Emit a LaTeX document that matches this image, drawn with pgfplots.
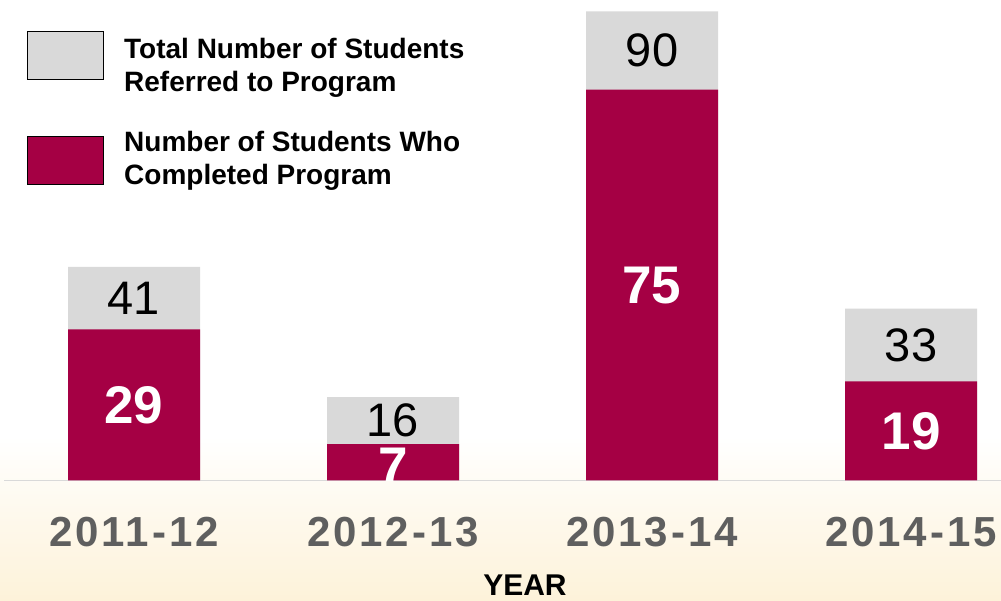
\documentclass[border=0pt]{standalone}
\usepackage{pgfplots}
\pgfplotsset{compat=1.18}
\usepackage{pgfplotstable}
\usepackage{fontspec}
\setmainfont{Liberation Sans}
\newfontfamily\tickfont[LetterSpace=7]{Liberation Sans}
\definecolor{crim}{HTML}{A50044}
\definecolor{lgray}{HTML}{D9D9D9}
\definecolor{tgray}{HTML}{5F5F5F}
\definecolor{cream}{HTML}{FDF2D9}

\pgfplotstableread{
x total done
0 41 29
1 16 7
2 90 75
3 33 19
}\bars
\pgfplotstableread{
x y lab
0 35 41
1 11.5 16
2 82.5 90
3 26 33
}\toplabels
\pgfplotstableread{
x y lab
0 14.5 29
2 37.5 75
3 9.5 19
}\inlabels

\pgfplotsset{mylegend/.style={legend image code/.code={\draw[##1, draw=black, line width=1pt] (0pt,{-24pt+#1}) rectangle (76pt,{24pt+#1});}}}

\begin{document}
\begin{tikzpicture}
\path[use as bounding box, fill=white] (0,0) rectangle (1001pt,601pt);
\shade[top color=white, bottom color=cream] (0,0) rectangle (1001pt,165pt);
\begin{axis}[
  at={(4.5pt,120.5pt)}, anchor=south west,
  scale only axis, width=996.5pt, height=480.5pt,
  xmin=-0.5, xmax=3.3475, ymin=0, ymax=92.2,
  axis x line=bottom, axis y line=none,
  x axis line style={draw=lgray, line width=1.5pt, -},
  xtick={0,1,2,3}, xticklabels={2011-12,2012-13,2013-14,2014-15},
  major tick length=0pt,
  xticklabel style={font=\tickfont\bfseries\fontsize{42}{42}\selectfont, text=tgray, anchor=base, yshift=-66.5pt, inner sep=0pt},
  xlabel={YEAR},
  xlabel style={at={(axis description cs:0.5223,0)}, anchor=base, yshift=-115.5pt, font=\bfseries\fontsize{30}{30}\selectfont, inner sep=0pt},
  legend style={at={(axis description cs:0.02258,0.935)}, anchor=north west, draw=none, fill=none,
    font=\bfseries\fontsize{28}{33}\selectfont, row sep=38pt, inner sep=0pt,
    nodes={inner sep=0pt, align=left},
    /tikz/every odd column/.append style={column sep=20pt}},
  legend cell align=left,
]
\addplot[ybar, bar width=132pt, bar shift=0pt, fill=lgray, draw=none, mylegend=10pt] table[x=x, y=total] {\bars};
\addlegendentry{Total Number of Students\\Referred to Program}
\addplot[ybar, bar width=132pt, bar shift=0pt, fill=crim, draw=none, mylegend=-2pt] table[x=x, y=done] {\bars};
\addlegendentry{Number of Students Who\\Completed Program}
\addplot[forget plot, draw=none, mark=none, nodes near coords, point meta=explicit symbolic,
  nodes near coords align={center},
  every node near coord/.append style={font=\fontsize{47}{47}\selectfont, text=black, inner sep=0pt}]
  table[x=x, y=y, meta=lab] {\toplabels};
\addplot[forget plot, draw=none, mark=none, nodes near coords, point meta=explicit symbolic,
  nodes near coords align={center},
  every node near coord/.append style={font=\bfseries\fontsize{53}{53}\selectfont, text=white, inner sep=0pt}]
  table[x=x, y=y, meta=lab] {\inlabels};
\node[font=\bfseries\fontsize{53}{53}\selectfont, text=white, inner sep=0pt] at (axis cs:1,2.7) {7};
\end{axis}
\end{tikzpicture}
\end{document}
